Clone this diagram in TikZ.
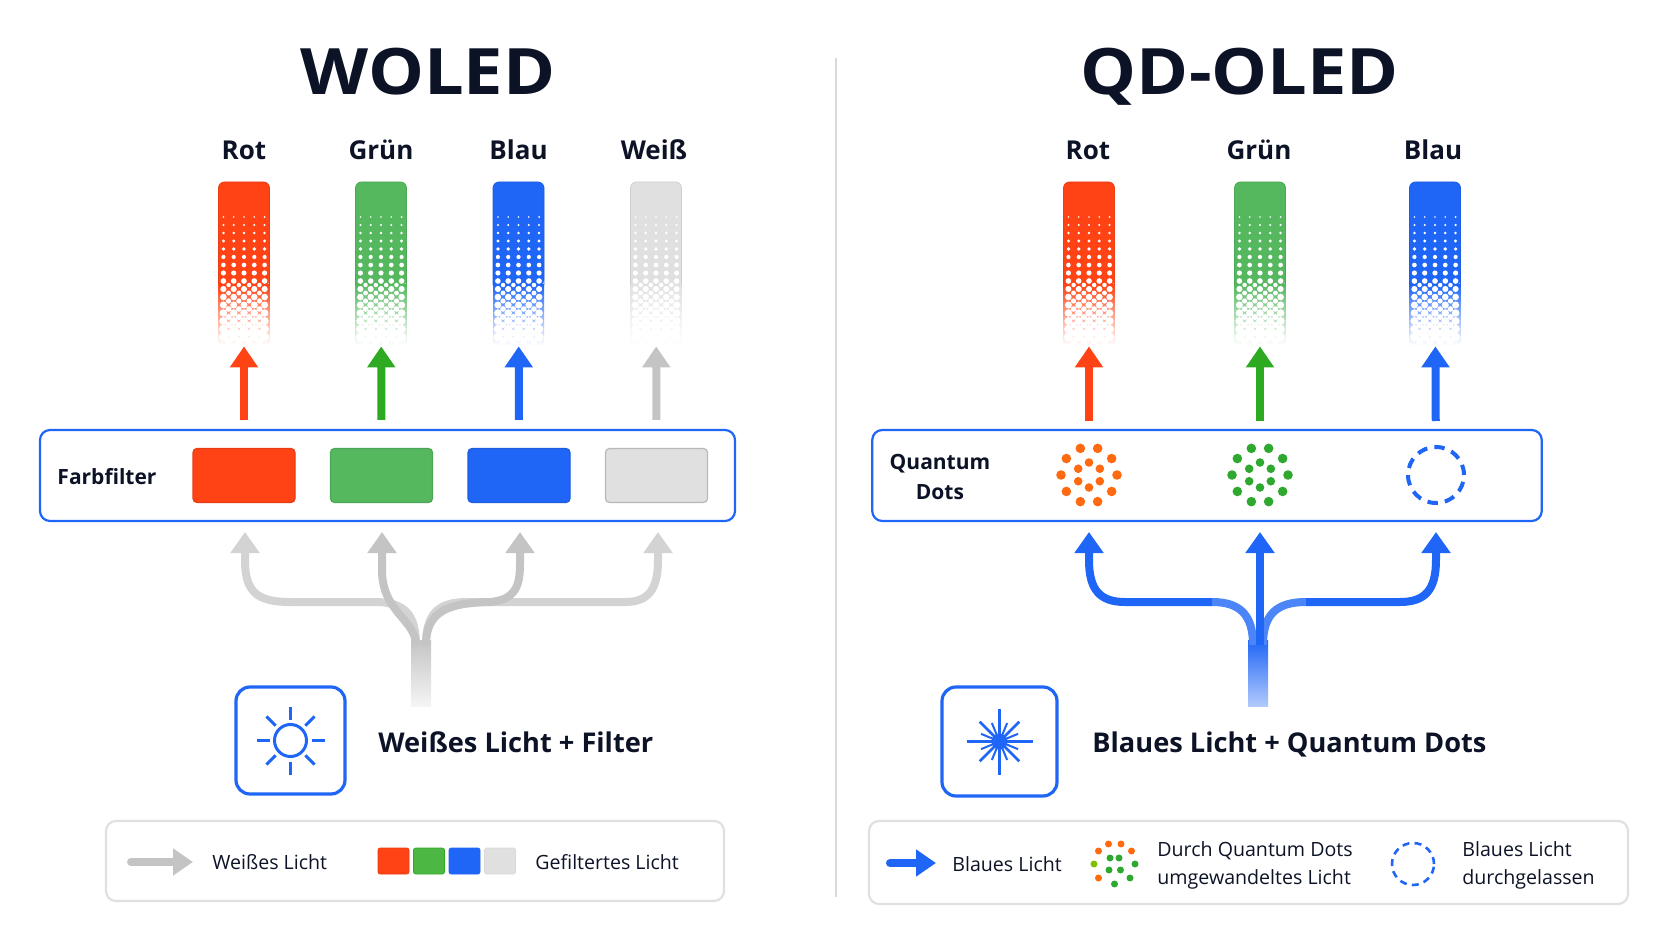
\documentclass[tikz,border=0pt]{standalone}
\usepackage{xcolor}
\usepackage{fontspec}
\usepackage{tikz}
\usetikzlibrary{arrows.meta}
\setmainfont{Open Sans}
\newfontfamily\semifont{Open Sans Bold}
\newfontfamily\heavyfont[FakeStretch=1.1]{Open Sans Bold}

\definecolor{inkc}{HTML}{0D1326}
\definecolor{redc}{HTML}{FF4315}
\definecolor{greenbar}{HTML}{55B85F}
\definecolor{greenc}{HTML}{2DAA22}
\definecolor{bluec}{HTML}{2066F6}
\definecolor{whitebar}{HTML}{E0E0E0}
\definecolor{flowc}{HTML}{C4C4C4}
\definecolor{orangec}{HTML}{FF6A10}
\definecolor{dotgreen}{HTML}{2FA82F}

% one fading light column with its halftone dots
\newcommand{\lightbar}[3]{
    \node[lightcol] (#1) at (#2,262) {};
    \shade[top color=#3, bottom color=white] (#2-25.5,285) rectangle (#2+25.5,345);
    \fill[#3, rounded corners=3pt] (#2-25.5,286) |- (#2+25.5,182) -- (#2+25.5,286) [sharp corners] -- cycle;
    \draw[#3!92!black, line width=0.4pt, rounded corners=3pt] (#2-25.5,285) |- (#2+25.5,182) -- (#2+25.5,285);
    \foreach \r in {0,...,15} {
        \pgfmathsetmacro{\rad}{0.9+0.24*\r}
        \foreach \c in {-2,...,2} {
            \fill[white] (#2+\c*10.3,217+\r*8) circle[radius=\rad];
        }
        \ifnum\r>7
            \foreach \c in {-1.5,-0.5,0.5,1.5} {
                \fill[white] (#2+\c*10.3,221+\r*8) circle[radius=\rad*0.8];
            }
        \fi
    }
}
% ring of quantum dots
\newcommand{\dotring}[2]{
    \begin{scope}[shift={(#1)}]
        \foreach \a in {0,36,...,324} {
            \fill[#2] (\a:28) circle[radius=4.8];
        }
        \foreach \a in {30,90,...,330} {
            \fill[#2] (\a:12.5) circle[radius=4.3];
        }
    \end{scope}
}

\tikzset{
    title/.style={text=inkc, inner sep=0pt, anchor=base, font=\heavyfont\fontsize{32}{32}\selectfont},
    collabel/.style={text=inkc, inner sep=0pt, font=\semifont\fontsize{13}{13}\selectfont},
    boxlabel/.style={text=inkc, inner sep=0pt, align=center, font=\semifont\fontsize{10.5}{15.2}\selectfont},
    headline/.style={text=inkc, inner sep=0pt, anchor=west, font=\semifont\fontsize{13.6}{14}\selectfont},
    legendtext/.style={text=inkc, inner sep=0pt, anchor=west, align=left, font=\fontsize{9.8}{14}\selectfont},
    lightcol/.style={shape=rectangle, minimum width=25.5pt, minimum height=80pt, inner sep=0pt},
    frame/.style={draw=bluec, line width=1.1pt, rounded corners=5pt, fill=white, inner sep=0pt},
    iconbox/.style={draw=bluec, line width=1.6pt, rounded corners=7pt, inner sep=0pt},
    legendbox/.style={draw=black!12, line width=1.1pt, rounded corners=5pt, inner sep=0pt},
    filterbox/.style={rounded corners=2pt, line width=0.6pt, minimum width=51pt, minimum height=27pt, inner sep=0pt},
    swatch/.style={rounded corners=1pt, line width=0.3pt, minimum width=15.5pt, minimum height=13pt, inner sep=0pt},
    uparrow/.style={line width=4pt, shorten >=2pt, -{Triangle[length=10.5pt,width=13.5pt]}},
    flow/.style={line width=4pt, -{Triangle[length=10.5pt,width=14pt]}},
    stem/.style={shape=rectangle, minimum width=10pt, minimum height=33pt, inner sep=0pt},
    legendarrow/.style={line width=4pt, -{Triangle[length=10pt,width=13pt]}}
}

\begin{document}
\begin{tikzpicture}[x=0.5pt,y=-0.5pt]
        \useasboundingbox (0,0) rectangle (1672,941);
        \draw[black!15, line width=1pt] (836,58) coordinate (divtop) -- (836,897) coordinate (divbot);

        % Titles
        \node[title] (woled) at (428,95) {WOLED};
        \node[title] (qdoled) at (1240,95) {QD-OLED};

        % WOLED columns
        \node[collabel] (lrot) at (244,150) {Rot};
        \node[collabel] (lgruen) at (381,150) {Grün};
        \node[collabel] (lblau) at (518.5,150) {Blau};
        \node[collabel] (lweiss) at (654,150) {Weiß};
        \lightbar{rbar}{244}{redc}
        \lightbar{gbar}{381}{greenbar}
        \lightbar{bbar}{518.5}{bluec}
        \lightbar{wbar}{656}{whitebar}

        % Farbfilter
        \node[frame, minimum width=347.5pt, minimum height=45.5pt] (filterframe) at (387.5,475.5) {};
        \node[boxlabel] (farbfilter) at (107,477) {Farbfilter};
        \node[filterbox, fill=redc, draw=redc!90!black] (rfilter) at (244,475.5) {};
        \node[filterbox, fill=greenbar, draw=greenbar!90!black] (gfilter) at (381.5,475.5) {};
        \node[filterbox, fill=bluec, draw=bluec!90!black] (bfilter) at (519,475.5) {};
        \node[filterbox, fill=whitebar, draw=black!28] (wfilter) at (656.5,475.5) {};

        \draw[uparrow, redc, shorten <=14pt] (rfilter) -- (rbar);
        \draw[uparrow, greenc, shorten <=14pt] (gfilter) -- (gbar);
        \draw[uparrow, bluec, shorten <=14pt] (bfilter) -- (bbar);
        \draw[uparrow, flowc, shorten <=14pt] (wfilter) -- (wbar);

        % White light tree
        \node[stem, top color=flowc, middle color=flowc, bottom color=black!4] (wstem) at (421,673) {};
        \coordinate (wl) at (416,645);
        \coordinate (wr) at (426,645);
        \coordinate (wa) at (245,532);
        \coordinate (wb) at (382,532);
        \coordinate (wc) at (520,532);
        \coordinate (wd) at (658,532);
        \draw[flow, flowc!75!white] (wl) .. controls (416,615) and (405,602) .. (375,602) -- (290,602) .. controls (255,602) and (245,590) .. (245,560) -- (wa);
        \draw[flow, flowc!75!white] (wr) .. controls (426,615) and (437,602) .. (467,602) -- (625,602) .. controls (648,602) and (658,590) .. (658,560) -- (wd);
        \draw[flow, flowc] (wl) .. controls (416,620) and (382,612) .. (382,570) -- (wb);
        \draw[flow, flowc] (wr) .. controls (426,610) and (450,603) .. (490,602) .. controls (512,600) and (520,590) .. (520,565) -- (wc);

        % Sun
        \node[iconbox, minimum width=54.5pt, minimum height=53.5pt] (sunbox) at (290.5,740.5) {};
        \draw[bluec, line width=1.5pt] (sunbox.center) circle[radius=16];
        \foreach \a in {0,45,...,315} {
            \draw[bluec, line width=1.5pt, shift={(sunbox.center)}] (\a:21) -- (\a:34);
        }
        \node[headline] (wtext) at (378,742) {Weißes Licht + Filter};

        % WOLED legend
        \node[legendbox, minimum width=309pt, minimum height=40pt] (wlegend) at (415,861) {};
        \coordinate (wla) at (131,862);
        \coordinate (wlb) at (193,862);
        \draw[legendarrow, flowc, line cap=round] (wla) -- (wlb);
        \node[legendtext] (wltext) at (212,862) {Weißes Licht};
        \node[swatch, fill=redc, draw=redc!90!black] (s1) at (393.5,861) {};
        \node[swatch, fill=greenc!85!white, draw=greenc] (s2) at (429,861) {};
        \node[swatch, fill=bluec, draw=bluec] (s3) at (464.5,861) {};
        \node[swatch, fill=whitebar, draw=black!15] (s4) at (500,861) {};
        \node[legendtext] (fltext) at (535,862) {Gefiltertes Licht};

        % QD-OLED columns
        \node[collabel] (qrot) at (1088,150) {Rot};
        \node[collabel] (qgruen) at (1259,150) {Grün};
        \node[collabel] (qblau) at (1433,150) {Blau};
        \lightbar{qrbar}{1089}{redc}
        \lightbar{qgbar}{1260}{greenbar}
        \lightbar{qbbar}{1435}{bluec}

        % Quantum dots
        \node[frame, minimum width=334.75pt, minimum height=45.5pt] (dotframe) at (1207,475.5) {};
        \node[boxlabel] (quantum) at (940,477) {Quantum\\Dots};
        \coordinate (rdots) at (1089,475);
        \coordinate (gdots) at (1260,475);
        \node[circle, draw=bluec, line width=2pt, dash pattern=on 5.2pt off 3.6pt, minimum size=28pt, inner sep=0pt] (bdots) at (1436,475) {};
        \dotring{rdots}{orangec}
        \dotring{gdots}{dotgreen}

        \draw[uparrow, redc, shorten <=27pt] (rdots) -- (qrbar);
        \draw[uparrow, greenc, shorten <=27pt] (gdots) -- (qgbar);
        \draw[uparrow, bluec, shorten <=27pt] (bdots.center) -- (qbbar);

        % Blue light tree
        \node[stem, top color=bluec, middle color=bluec, bottom color=bluec!35!white] (qstem) at (1258,673) {};
        \coordinate (ql) at (1253,645);
        \coordinate (qr) at (1263,645);
        \coordinate (qm) at (1260,645);
        \coordinate (qa) at (1089,532);
        \coordinate (qb) at (1260,532);
        \coordinate (qc) at (1436,532);
        \coordinate (qj) at (1212,602);
        \coordinate (qk) at (1306,602);
        \draw[line width=4pt, bluec!80!white] (ql) .. controls (1253,615) and (1240,602) .. (qj);
        \draw[line width=4pt, bluec!80!white] (qr) .. controls (1263,615) and (1276,602) .. (qk);
        \draw[flow, bluec] (qj) -- (1125,602) .. controls (1100,602) and (1089,590) .. (1089,560) -- (qa);
        \draw[flow, bluec] (qk) -- (1400,602) .. controls (1425,602) and (1436,590) .. (1436,560) -- (qc);
        \draw[flow, bluec] (qm) -- (qb);

        % Laser
        \node[iconbox, minimum width=57.5pt, minimum height=54.5pt] (laserbox) at (999.5,741.5) {};
        \begin{scope}[shift={(laserbox.center)}]
            \fill[bluec] (0,0) circle[radius=8];
            \foreach \a in {0,90,180,270} {
                \draw[bluec, line width=1.4pt] (0,0) -- (\a:33);
            }
            \foreach \a in {45,135,225,315} {
                \draw[bluec, line width=1.3pt] (0,0) -- (\a:28);
            }
            \foreach \a in {22.5,67.5,...,337.5} {
                \draw[bluec, line width=1pt] (0,0) -- (\a:20);
            }
        \end{scope}
        \node[headline] (qtext) at (1092,744) {Blaues Licht + Quantum Dots};

        % QD-OLED legend
        \node[legendbox, minimum width=379.5pt, minimum height=41.5pt] (qlegend) at (1248.5,862.5) {};
        \coordinate (qla) at (890,863);
        \coordinate (qlb) at (936,863);
        \draw[legendarrow, bluec, line cap=round] (qla) -- (qlb);
        \node[legendtext] (qltext) at (952,864) {Blaues Licht};
        \begin{scope}[shift={(1114,864)}]
            \foreach \px/\py/\c in {-5.5/-20/orangec, 7/-20/orangec, 17.5/-13/orangec, 21/0/dotgreen, 16/14/dotgreen, 0.5/20/dotgreen, -15.5/14/orangec, -20/0/orange!50!green, -15.5/-13/orangec, -4/-6/dotgreen, 5/-6/dotgreen, -5/6/dotgreen, 6.5/6/dotgreen} {
                \fill[\c] (\px,\py) circle[radius=3.5];
            }
        \end{scope}
        \node[legendtext] (dotstext) at (1157,865) {Durch Quantum Dots\\umgewandeltes Licht};
        \node[circle, draw=bluec, line width=1.3pt, dash pattern=on 3.5pt off 2.6pt, minimum size=21pt, inner sep=0pt] (passring) at (1413,864) {};
        \node[legendtext] (passtext) at (1462,865) {Blaues Licht\\durchgelassen};
    \end{tikzpicture}
\end{document}
